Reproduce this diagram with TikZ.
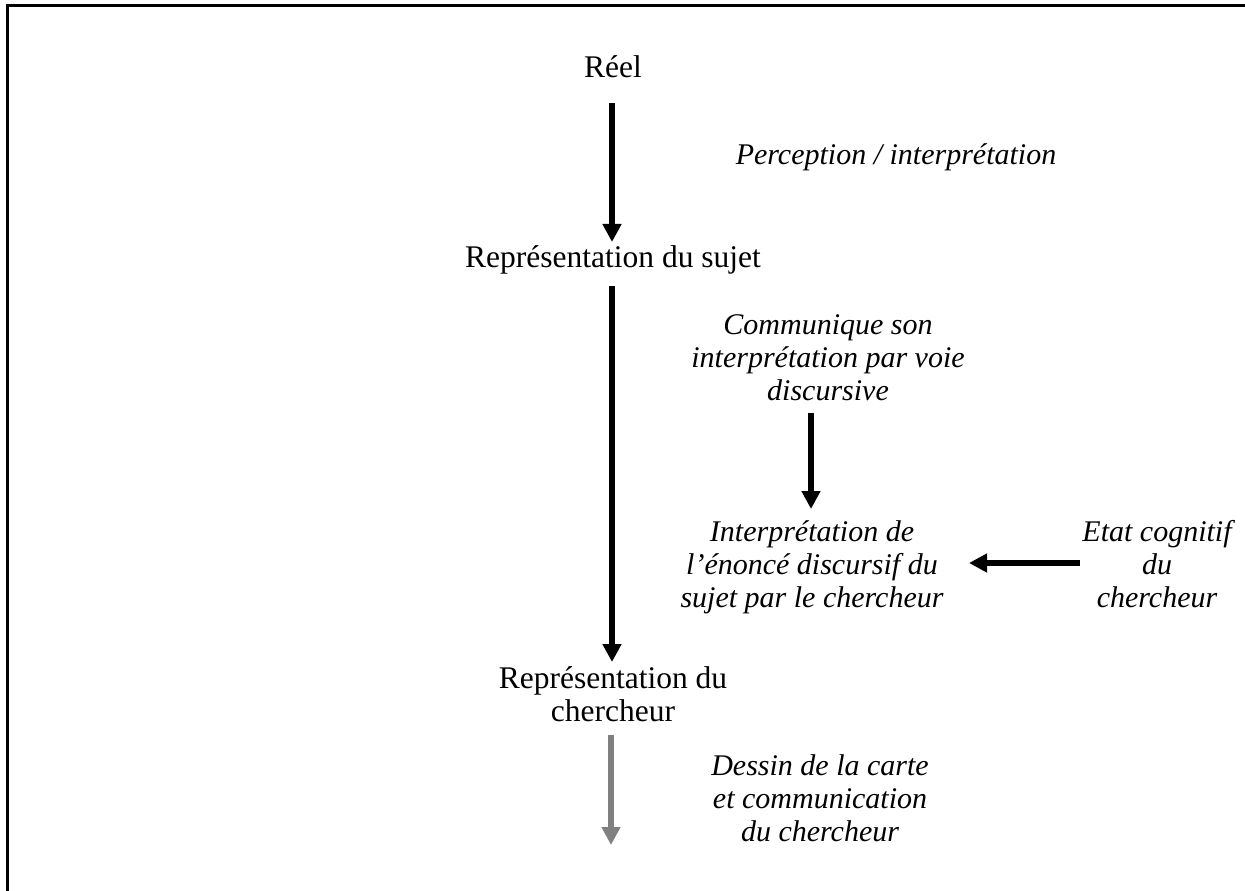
\documentclass[tikz,border=0pt]{standalone}
\usepackage{fontspec}
\setmainfont{Liberation Serif}
\usetikzlibrary{arrows.meta}

\definecolor{arrowgray}{HTML}{808080}

\begin{document}
\begin{tikzpicture}[
    x=0.4pt,
    y=-0.4pt,
    frame/.style={
        line width=1.2pt,
    },
    flow/.style={
        line width=2.6pt,
        -{Triangle[width=7.2pt, length=7.2pt]},
    },
    grayflow/.style={
        flow,
        draw=arrowgray,
    },
    level/.style={
        font=\fontsize{12.6}{13.2}\selectfont,
        align=center,
        inner sep=0pt,
    },
    gloss/.style={
        level,
        font=\fontsize{12}{13.2}\selectfont\itshape,
    }
]
    \useasboundingbox (0,0) rectangle (1245,891);
    \clip (0,0) rectangle (1245,891);

    % Frame
    \draw[frame] (7.5,910) -- (7.5,5.5) -- (1260,5.5);

    % Levels
    \node[level, anchor=base] (reel) at (613,78) {Réel};
    \node[level, anchor=base] (rsujet) at (613,268) {Représentation du sujet};
    \node[level] (rchercheur) at (613,694) {Représentation du\\chercheur};

    % Glosses
    \node[gloss, anchor=base] (perception) at (896,165) {Perception / interprétation};
    \node[gloss] (communique) at (828,358) {Communique son\\interprétation par voie\\discursive};
    \node[gloss] (interpretation) at (812,567) {Interprétation de\\l’énoncé discursif du\\sujet par le chercheur};
    \node[gloss] (etat) at (1157,564) {Etat cognitif\\du\\chercheur};
    \node[gloss] (dessin) at (820,798) {Dessin de la carte\\et communication\\du chercheur};

    % Arrow ends
    \coordinate (a1s) at (612,103);
    \coordinate (a1e) at (612,242);
    \coordinate (a2s) at (612,286);
    \coordinate (a2e) at (612,662);
    \coordinate (a3s) at (811,413);
    \coordinate (a3e) at (811,509);
    \coordinate (a4s) at (1080,563);
    \coordinate (a4e) at (969,563);
    \coordinate (a5s) at (611,735);
    \coordinate (a5e) at (611,845);

    % Arrows
    \draw[flow] (a1s) -- (a1e);
    \draw[flow] (a2s) -- (a2e);
    \draw[flow] (a3s) -- (a3e);
    \draw[flow] (a4s) -- (a4e);
    \draw[grayflow] (a5s) -- (a5e);
\end{tikzpicture}
\end{document}
